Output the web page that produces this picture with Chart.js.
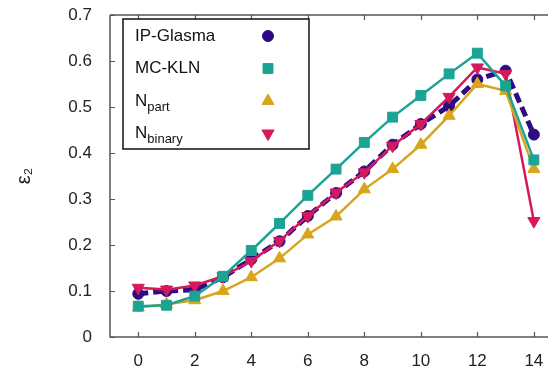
<!DOCTYPE html>
<html>
<head>
<meta charset="utf-8">
<script src="https://cdn.jsdelivr.net/npm/chart.js@4"></script>
<style>
  html, body { margin: 0; padding: 0; background: #fff; overflow: hidden; }
</style>
</head>
<body>
<canvas id="eps" width="548" height="373"></canvas>
<script>
// centrality bins on x
const xs = [0, 1, 2, 3, 4, 5, 6, 7, 8, 9, 10, 11, 12, 13, 14];

const ipGlasma = [0.094, 0.100, 0.103, 0.130, 0.169, 0.208, 0.263, 0.313, 0.360, 0.418, 0.463, 0.502, 0.560, 0.579, 0.440];
const mcKln    = [0.067, 0.069, 0.089, 0.132, 0.188, 0.247, 0.308, 0.365, 0.423, 0.478, 0.525, 0.572, 0.617, 0.546, 0.385];
const nPart    = [0.064, 0.071, 0.080, 0.100, 0.130, 0.171, 0.223, 0.262, 0.321, 0.365, 0.418, 0.481, 0.550, 0.535, 0.365];
const nBinary  = [0.107, 0.103, 0.112, 0.132, 0.165, 0.209, 0.263, 0.314, 0.358, 0.416, 0.463, 0.522, 0.586, 0.572, 0.252];

const seriesNames = ["IP-Glasma", "MC-KLN", "Npart", "Nbinary"];
// legend text split into main part + subscript
const legendMain = ["IP-Glasma", "MC-KLN", "N", "N"];
const legendSub  = ["", "", "part", "binary"];

const xTicks = [0, 2, 4, 6, 8, 10, 12, 14];
const yTicks = [0, 0.1, 0.2, 0.3, 0.4, 0.5, 0.6, 0.7];
const yTickLabels = ["0", "0.1", "0.2", "0.3", "0.4", "0.5", "0.6", "0.7"];

const FONT = "'Liberation Sans', Arial, sans-serif";
const axisCol = "#555";

function pts(arr) {
    return xs.map((x, i) => ({ x: x, y: arr[i] }));
}

// frame + inward tick marks
const framePlugin = {
    id: "frame",
    beforeDatasetsDraw(chart) {
        const { ctx, chartArea: a, scales } = chart;
        ctx.save();
        ctx.strokeStyle = axisCol;
        ctx.lineWidth = 1.5;
        ctx.beginPath();
        ctx.moveTo(a.left, a.top);
        ctx.lineTo(a.right, a.top);
        ctx.moveTo(a.left, a.top);
        ctx.lineTo(a.left, a.bottom);
        ctx.lineTo(a.right, a.bottom);
        ctx.stroke();
        ctx.lineWidth = 1.2;
        ctx.beginPath();
        xTicks.forEach(v => {
            const px = Math.round(scales.x.getPixelForValue(v)) + 0.5;
            ctx.moveTo(px, a.bottom);
            ctx.lineTo(px, a.bottom - 5);
            ctx.moveTo(px, a.top);
            ctx.lineTo(px, a.top + 5);
        });
        yTicks.forEach(v => {
            const py = Math.round(scales.y.getPixelForValue(v)) + 0.5;
            ctx.moveTo(a.left, py);
            ctx.lineTo(a.left + 5, py);
        });
        ctx.stroke();
        ctx.restore();
    },
    afterDatasetsDraw(chart) {
        const { ctx, chartArea: a } = chart;
        const bx = a.left + 13, by = a.top + 4, bw = 186, bh = 130;
        ctx.save();
        ctx.fillStyle = "#fff";
        ctx.fillRect(bx, by, bw, bh);
        ctx.strokeStyle = "#111";
        ctx.lineWidth = 1.5;
        ctx.strokeRect(bx, by, bw, bh);
        ctx.textBaseline = "middle";
        ctx.fillStyle = "#111";
        chart.data.datasets.forEach((ds, i) => {
            const k = seriesNames.indexOf(ds.label);
            const ry = by + 17 + k * 32.5;
            ctx.font = "17px " + FONT;
            ctx.fillText(legendMain[k], bx + 12, ry);
            if (legendSub[k]) {
                const w = ctx.measureText(legendMain[k]).width;
                ctx.font = "13px " + FONT;
                ctx.fillText(legendSub[k], bx + 12 + w, ry + 6);
            }
            ctx.fillStyle = ds.pointBackgroundColor;
            ctx.strokeStyle = ds.pointBackgroundColor;
            ctx.lineWidth = 1;
            Chart.helpers.drawPoint(ctx, {
                pointStyle: ds.pointStyle,
                radius: ds.pointRadius,
                rotation: ds.pointRotation || 0,
                borderWidth: 1
            }, bx + 145, ry);
            ctx.fillStyle = "#111";
        });
        ctx.restore();
    }
};

function series(label, data, color, style, radius, extra) {
    return Object.assign({
        label: label,
        data: pts(data),
        borderColor: color,
        backgroundColor: color,
        pointBackgroundColor: color,
        pointBorderColor: color,
        pointBorderWidth: 1,
        borderWidth: 2.5,
        pointStyle: style,
        pointRadius: radius,
        pointHoverRadius: radius,
        tension: 0
    }, extra || {});
}

new Chart(document.getElementById("eps"), {
    type: "line",
    data: {
        datasets: [
            series(seriesNames[1], mcKln, "#1ba393", "rect", 7),
            series(seriesNames[2], nPart, "#d9a51c", "triangle", 7),
            series(seriesNames[3], nBinary, "#d41a5c", "triangle", 7, { pointRotation: 180 }),
            series(seriesNames[0], ipGlasma, "#2e0b82", "circle", 5.5, { borderWidth: 5, borderDash: [10, 5] })
        ]
    },
    plugins: [framePlugin],
    options: {
        responsive: false,
        animation: false,
        clip: false,
        layout: { autoPadding: false, padding: { top: 15, right: 0, left: 0, bottom: 0 } },
        plugins: { legend: { display: false }, tooltip: { enabled: false } },
        scales: {
            x: {
                type: "linear",
                min: -1,
                max: 14.5,
                afterBuildTicks: s => { s.ticks = xTicks.map(v => ({ value: v })); },
                afterFit: s => { s.height = 36; s.paddingLeft = 0; s.paddingRight = 0; },
                grid: { display: false, drawTicks: false },
                border: { display: false },
                ticks: {
                    padding: 14,
                    maxRotation: 0,
                    color: "#222",
                    font: { family: FONT, size: 17 }
                }
            },
            y: {
                min: 0,
                max: 0.7,
                afterBuildTicks: s => { s.ticks = yTicks.map(v => ({ value: v })); },
                afterFit: s => { s.width = 110; s.paddingTop = 0; s.paddingBottom = 0; },
                grid: { display: false, drawTicks: false },
                border: { display: false },
                ticks: {
                    padding: 18,
                    color: "#222",
                    font: { family: FONT, size: 17 },
                    callback: (v) => yTickLabels[yTicks.findIndex(t => Math.abs(t - v) < 1e-9)]
                },
                title: {
                    display: true,
                    text: "ε₂",
                    color: "#222",
                    font: { family: FONT, size: 20 },
                    padding: { top: 12, bottom: 0 }
                }
            }
        }
    }
});
</script>
</body>
</html>
